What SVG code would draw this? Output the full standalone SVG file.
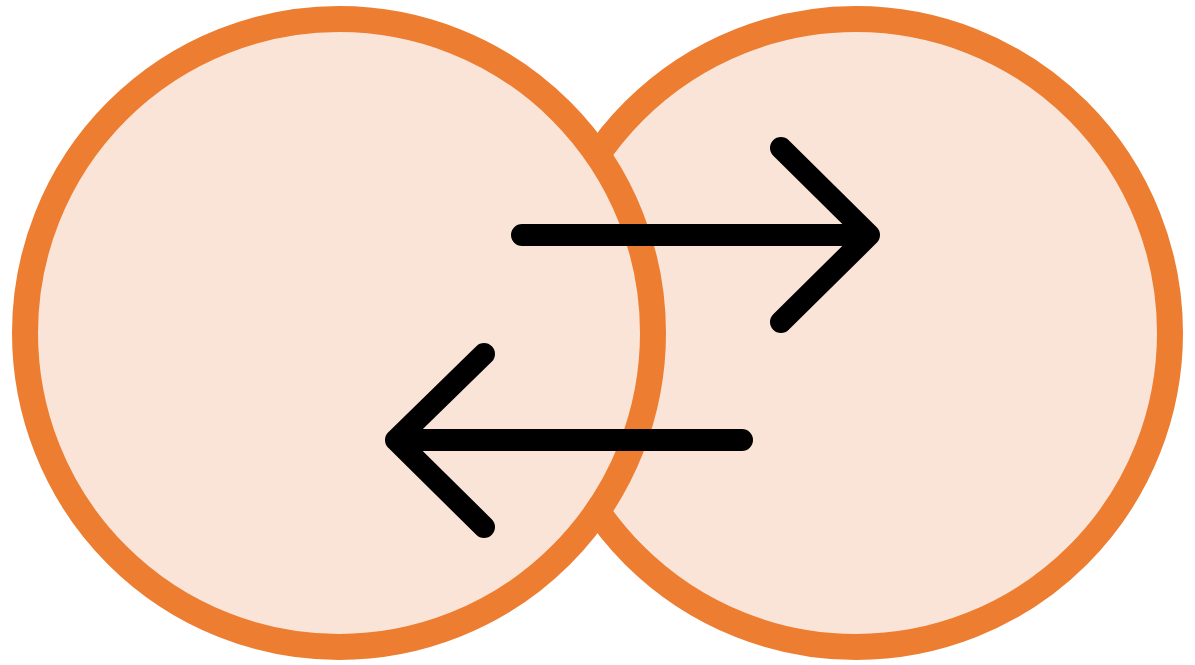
<svg xmlns="http://www.w3.org/2000/svg" width="1195" height="665" viewBox="0 0 1195 665">
<style>
.c{fill:#FAE4D7;stroke:#ED7D31;stroke-width:26}
.a{fill:none;stroke:#000;stroke-width:22;stroke-linecap:round;stroke-linejoin:round}
</style>
<rect width="1195" height="665" fill="#fff"/>
<g id="circle-right"><circle class="c" cx="856" cy="333" r="314"/></g>
<g id="circle-left"><circle class="c" cx="339" cy="333" r="314"/></g>
<g id="connectors">
<path class="a" d="M522,235H869M781,148L869,235L781,322"/>
<path class="a" d="M742,440H396M484,354L396,440L484,527"/>
</g>
</svg>
